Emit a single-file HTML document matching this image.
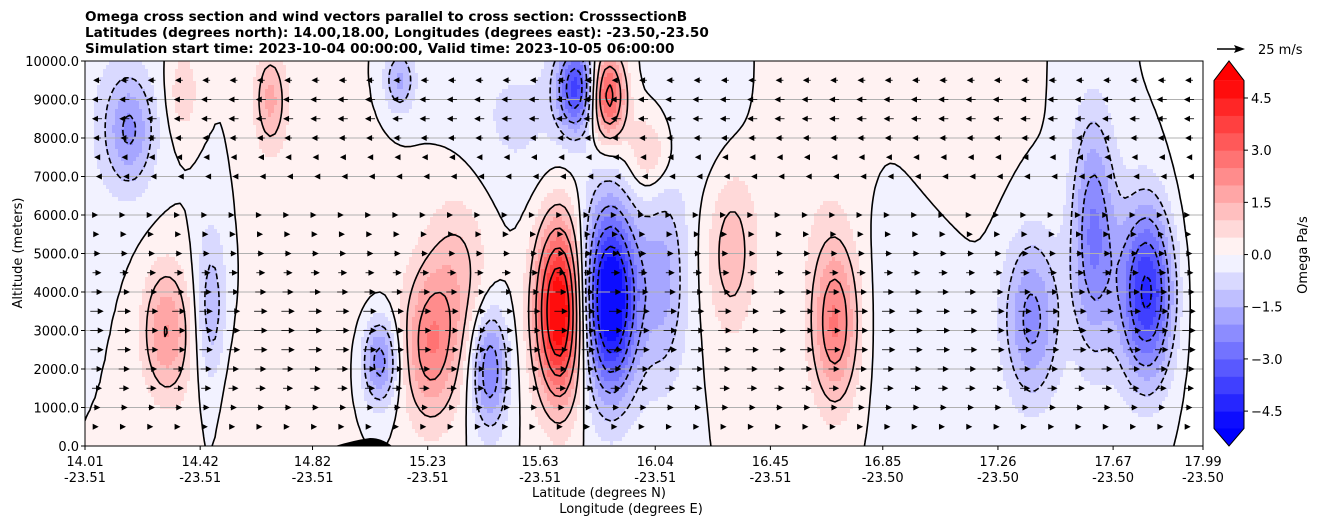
<!DOCTYPE html>
<html><head><meta charset="utf-8"><style>
body{margin:0;background:#fff;}
svg text{font-family:"DejaVu Sans","Liberation Sans",sans-serif;}
</style></head><body>
<svg id="chart" width="1320" height="526" viewBox="0 0 1320 526" xmlns="http://www.w3.org/2000/svg">
<g font-size="13.6" font-weight="bold" fill="#000">
<text x="85" y="21">Omega cross section and wind vectors parallel to cross section: CrosssectionB</text>
<text x="85" y="37">Latitudes (degrees north): 14.00,18.00, Longitudes (degrees east): -23.50,-23.50</text>
<text x="85" y="53">Simulation start time: 2023-10-04 00:00:00, Valid time: 2023-10-05 06:00:00</text>
</g>
<clipPath id="pc"><rect x="85" y="61" width="1118" height="385"/></clipPath>
<g id="fill" clip-path="url(#pc)"></g>
<g id="grid"></g>
<g id="lines" clip-path="url(#pc)"></g>
<path d="M335,446 Q355,440 370,438 Q382,438 392,446 Z" fill="#000"/>
<g id="arrows" clip-path="url(#pc)"></g>
<rect x="85" y="61" width="1118" height="385" fill="none" stroke="#000" stroke-width="1"/>
<g id="yt" font-size="13"></g>
<g id="xt" font-size="13"></g>
<text font-size="13" transform="translate(22,253) rotate(-90)" text-anchor="middle">Altitude (meters)</text>
<text font-size="13" x="599" y="497" text-anchor="middle">Latitude (degrees N)</text>
<text font-size="13" x="631" y="513" text-anchor="middle">Longitude (degrees E)</text>
<g id="cbar"></g>
<text font-size="13" transform="translate(1307,255) rotate(-90)" text-anchor="middle">Omega Pa/s</text>
<g>
<line x1="1217" y1="49" x2="1236" y2="49" stroke="#000" stroke-width="1.5"/>
<polygon points="1245,49 1234,45 1236,49 1234,53" fill="#000"/>
<text x="1258" y="54" font-size="13">25 m/s</text>
</g>
</svg>
<script>
// ---- data ----
const latTicks=[14.01,14.42,14.82,15.23,15.63,16.04,16.45,16.85,17.26,17.67,17.99];
const lonTicks=["-23.51","-23.51","-23.51","-23.51","-23.51","-23.51","-23.51","-23.50","-23.50","-23.50","-23.50"];
const altTicks=[0,1000,2000,3000,4000,5000,6000,7000,8000,9000,10000];
const cbarTicks=[4.5,3.0,1.5,0.0,-1.5,-3.0,-4.5];
const levels=[-5,-4.5,-4,-3.5,-3,-2.5,-2,-1.5,-1,-0.5,0,0.5,1,1.5,2,2.5,3,3.5,4,4.5,5];
const lineLevels=[-4,-3,-2,-1,0,1,2,3,4];
// omega features (centre lat, centre alt, amplitude, lat width, alt width)
const blobLat=[15.70,15.88,16.07,15.76,15.87,17.79,17.60,17.38,16.68,16.31,15.24,14.30,15.06,15.45,14.46,14.17,14.67,15.13,15.34,16.02,14.36,14.10,14.85,16.55,17.10,16.95,17.95,15.55,16.20,14.60];
const blobAlt=[3500,3800,4300,9300,9100,4000,5500,3300,3200,5000,2600,3000,2200,2000,3500,8200,9000,9500,4500,7600,9200,8500,5000,7500,8000,3500,5000,8500,8500,1500];
const blobAmp=[5.4,-5.6,-1.6,-3.6,3.6,-4.2,-2.6,-2.2,2.6,1.3,2.3,2.0,-2.4,-2.6,-1.4,-1.8,1.6,-1.6,1.1,1.3,0.9,-0.4,0.4,0.4,0.4,-0.4,0.4,-0.6,-0.4,0.4];
const blobWLat=[0.06,0.07,0.06,0.05,0.045,0.07,0.055,0.07,0.06,0.06,0.07,0.06,0.045,0.045,0.04,0.06,0.04,0.04,0.08,0.06,0.04,0.12,0.15,0.15,0.12,0.12,0.08,0.15,0.15,0.15];
const blobWAlt=[1600,1700,1900,800,800,1600,2100,1500,1500,1500,1400,1200,800,1100,1600,1000,900,600,1600,800,800,2000,2500,2000,1500,2500,3000,1500,1500,1200];
const windAlt=[500,1000,1500,2000,2500,3000,3500,4000,4500,5000,5500,6000,6500,7000,7500,8000,8500,9000,9500];
const windU=[3,6,9,10,12,12,12,10,8,6,4,2,0,-2,-5,-7,-9,-9,-7];

// ---- axes ----
const X0=85,X1=1203,YB=446,YT=61;
const xS=lat=>X0+(lat-14.01)/(17.99-14.01)*(X1-X0);
const yS=alt=>YB-alt/10000*(YB-YT);
const NS="http://www.w3.org/2000/svg";
function mk(tag,attrs,parent){const e=document.createElementNS(NS,tag);for(const k in attrs)e.setAttribute(k,attrs[k]);parent.appendChild(e);return e;}
function field(lat,alt){let v=0;for(let i=0;i<blobLat.length;i++){const a=(lat-blobLat[i])/blobWLat[i],b=(alt-blobAlt[i])/blobWAlt[i];v+=blobAmp[i]*Math.exp(-0.5*(a*a+b*b));}return v;}
function bwr(v){let t=(v+5)/10;t=Math.max(0,Math.min(1,t));let r,g,b;if(t<0.5){r=g=2*t;b=1;}else{r=1;g=b=2*(1-t);}return `rgb(${Math.round(r*255)},${Math.round(g*255)},${Math.round(b*255)})`;}
function bandColor(v){let k=0;while(k<levels.length-2&&v>=levels[k+1])k++;return bwr((levels[k]+levels[k+1])/2);}

// filled contours
const fill=document.getElementById('fill');
const cw=3,ch=4;
for(let y=YT;y<YB;y+=ch){
  const alt=(YB-(y+ch/2))/(YB-YT)*10000;
  let runStart=X0,runCol=null;
  for(let x=X0;x<=X1;x+=cw){
    let col=null;
    if(x<X1){const lat=14.01+(x+cw/2-X0)/(X1-X0)*3.98;col=bandColor(field(lat,alt));}
    if(col!==runCol){
      if(runCol){const r=mk('rect',{x:runStart,y:y,width:x-runStart+0.6,height:ch+0.6,fill:runCol},fill);
        
        }
      runStart=x;runCol=col;
    }
  }
}
// grid & ticks
const grid=document.getElementById('grid'),yt=document.getElementById('yt'),xt=document.getElementById('xt');
altTicks.forEach(a=>{const y=yS(a);
  if(a>0&&a<10000)mk('line',{x1:X0,x2:X1,y1:y,y2:y,stroke:'#b0b0b0','stroke-width':1},grid);
  mk('line',{x1:X0-4,x2:X0,y1:y,y2:y,stroke:'#000'},yt);
  const t=mk('text',{x:X0-6,y:y+5,'text-anchor':'end'},yt);t.textContent=a.toFixed(1);
});
latTicks.forEach((l,i)=>{const x=xS(l);
  mk('line',{x1:x,x2:x,y1:YB,y2:YB+4,stroke:'#000'},xt);
  const t=mk('text',{x:x,y:466,'text-anchor':'middle'},xt);t.textContent=l.toFixed(2);
  const t2=mk('text',{x:x,y:482,'text-anchor':'middle'},xt);t2.textContent=lonTicks[i];
});
// contour lines via marching squares + segment chaining
const lines=document.getElementById('lines');
const gx=5,gy=4,nx=Math.ceil((X1-X0)/gx)+1,ny=Math.ceil((YB-YT)/gy)+1;
const F=[];for(let j=0;j<ny;j++){F.push([]);const alt=(YB-(YT+j*gy))/(YB-YT)*10000;for(let i=0;i<nx;i++){const lat=14.01+(i*gx)/(X1-X0)*3.98;F[j].push(field(lat,alt));}}
const key=p=>p[0].toFixed(2)+','+p[1].toFixed(2);
lineLevels.forEach(L=>{
  const segs=[];
  for(let j=0;j<ny-1;j++)for(let i=0;i<nx-1;i++){
    const v=[F[j][i],F[j][i+1],F[j+1][i+1],F[j+1][i]];
    const px=[X0+i*gx,X0+(i+1)*gx,X0+(i+1)*gx,X0+i*gx],py=[YT+j*gy,YT+j*gy,YT+(j+1)*gy,YT+(j+1)*gy];
    const pts=[];
    for(let e=0;e<4;e++){let a=e,b=(e+1)%4;
      if((v[a]<L)!==(v[b]<L)){ if(v[a]>v[b]){const tmp=a;a=b;b=tmp;}
        const t=(L-v[a])/(v[b]-v[a]);pts.push([px[a]+t*(px[b]-px[a]),py[a]+t*(py[b]-py[a])]);}}
    for(let k=0;k+1<pts.length;k+=2)segs.push([pts[k],pts[k+1]]);
  }
  const adj=new Map();
  segs.forEach((s,idx)=>{[0,1].forEach(e=>{const k=key(s[e]);if(!adj.has(k))adj.set(k,[]);adj.get(k).push(idx);});});
  const used=new Array(segs.length).fill(false);
  let d='';
  function walk(pt){const out=[];let cur=pt;
    while(true){const list=adj.get(key(cur))||[];let nxt=-1;for(const id of list)if(!used[id]){nxt=id;break;}
      if(nxt<0)break;used[nxt]=true;const s=segs[nxt];const other=key(s[0])===key(cur)?s[1]:s[0];out.push(other);cur=other;}
    return out;}
  for(let i=0;i<segs.length;i++){if(used[i])continue;used[i]=true;
    const fwd=walk(segs[i][1]);const bwd=walk(segs[i][0]).reverse();
    const poly=[...bwd,segs[i][0],segs[i][1],...fwd];
    d+='M'+poly.map(p=>p[0].toFixed(1)+','+p[1].toFixed(1)).join('L');}
  const p=mk('path',{d:d,fill:'none',stroke:'#000','stroke-width':1.6,'stroke-linejoin':'round'},lines);
  if(L<0)p.setAttribute('stroke-dasharray','6 3');
  
  
});
// wind arrows
const arrows=document.getElementById('arrows');
windAlt.forEach((a,k)=>{const u=windU[k];if(Math.abs(u)<1)return;
  const y=yS(a);const len=u/25*28;
  for(let x=97;x<X1;x+=27.3){
    const tip=x+len/2,tail=x-len/2,s=Math.sign(u);
    const g=mk('g',{},arrows);
    
    
    mk('line',{x1:tail,y1:y,x2:tip-s*4,y2:y,stroke:'#000','stroke-width':0.8},g);
    mk('polygon',{points:`${tip},${y} ${tip-s*6},${y-3} ${tip-s*6},${y+3}`,fill:'#000'},g);
  }
});
// colorbar
const cb=document.getElementById('cbar');
const cbX=1214,cbW=30,cbTop=80.6,cbBot=428.5;
const cY=v=>cbTop+(5-v)/10*(cbBot-cbTop);
for(let k=0;k<levels.length-1;k++){
  const r=mk('rect',{x:cbX,y:cY(levels[k+1]),width:cbW,height:cY(levels[k])-cY(levels[k+1])+0.5,fill:bwr((levels[k]+levels[k+1])/2)},cb);
  
  
}
mk('polygon',{points:`${cbX},${cbTop} ${cbX+cbW/2},61 ${cbX+cbW},${cbTop}`,fill:'rgb(255,0,0)'},cb);
mk('polygon',{points:`${cbX},${cbBot} ${cbX+cbW/2},446 ${cbX+cbW},${cbBot}`,fill:'rgb(0,0,255)'},cb);
mk('polygon',{points:`${cbX},${cbTop} ${cbX+cbW/2},61 ${cbX+cbW},${cbTop} ${cbX+cbW},${cbBot} ${cbX+cbW/2},446 ${cbX},${cbBot}`,fill:'none',stroke:'#000'},cb);
cbarTicks.forEach(v=>{const y=cY(v);mk('line',{x1:cbX+cbW,x2:cbX+cbW+4,y1:y,y2:y,stroke:'#000'},cb);
  const t=mk('text',{x:cbX+cbW+7,y:y+5,'font-size':13},cb);t.textContent=(v<0?'\u2212':'')+Math.abs(v).toFixed(1);});
</script>
</body></html>
